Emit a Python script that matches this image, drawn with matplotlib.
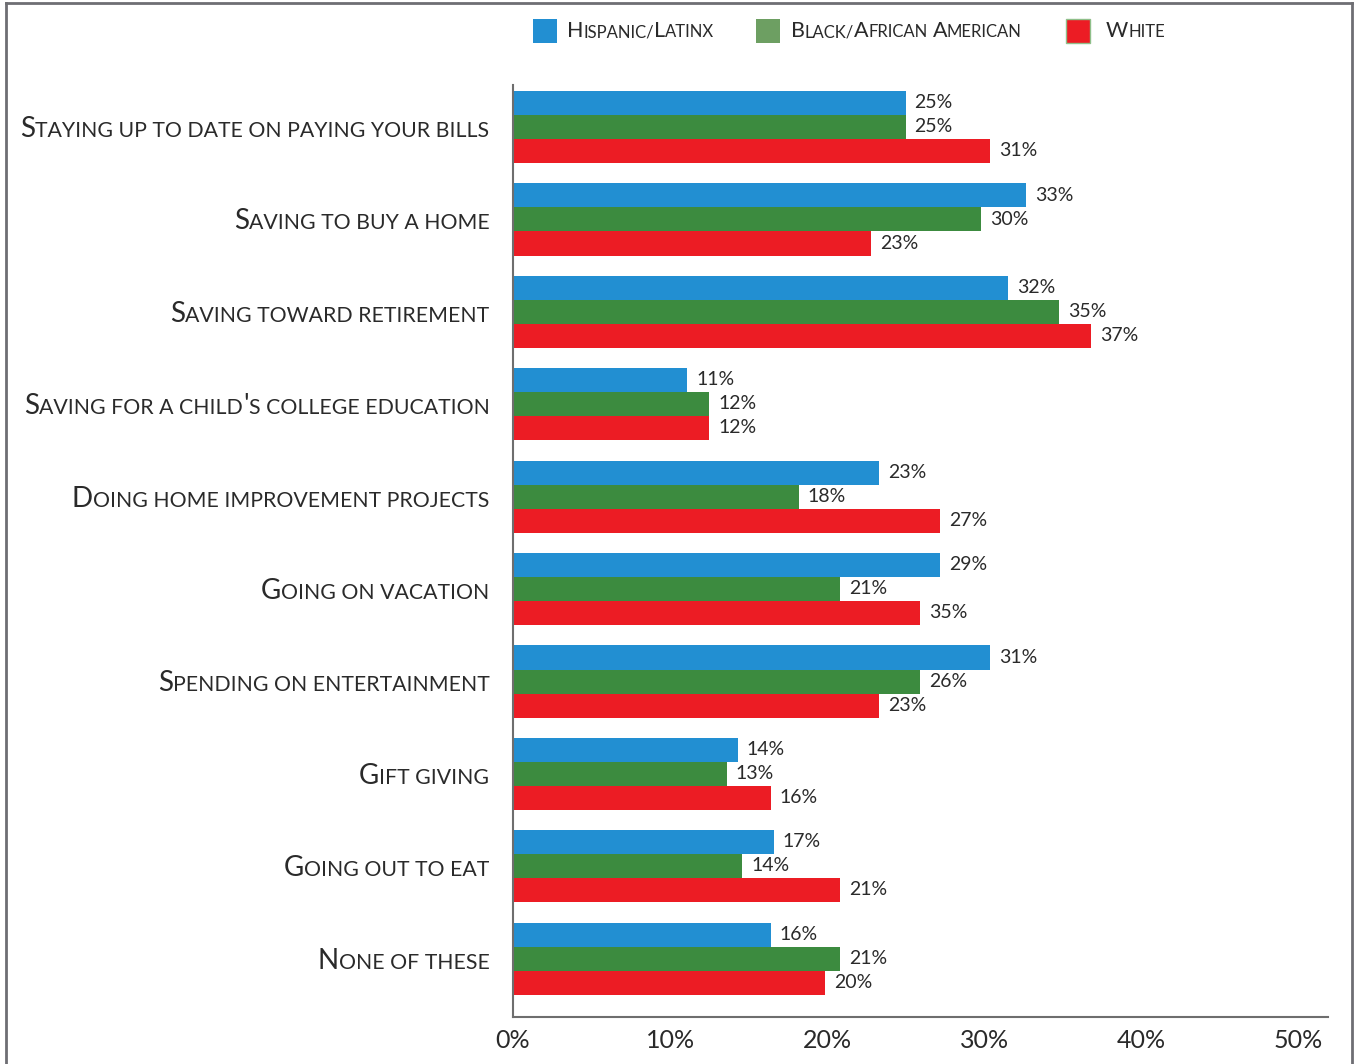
import matplotlib
matplotlib.use("Agg")
import matplotlib.pyplot as plt
from matplotlib.lines import Line2D
from matplotlib.offsetbox import TextArea, HPacker, DrawingArea, AnnotationBbox
import numpy as np

# Datos
categorias = [
    "Staying up to date on paying your bills",
    "Saving to buy a home",
    "Saving toward retirement",
    "Saving for a child's college education",
    "Doing home improvement projects",
    "Going on vacation",
    "Spending on entertainment",
    "Gift giving",
    "Going out to eat",
    "None of these",
]
series = ["Hispanic/Latinx", "Black/African American", "White"]

# largo de las barras
hispanic = [25, 32.7, 31.5, 11.1, 23.3, 27.2, 30.4, 14.3, 16.6, 16.4]
black = [25, 29.8, 34.8, 12.5, 18.2, 20.8, 25.9, 13.6, 14.6, 20.8]
white = [30.4, 22.8, 36.8, 12.5, 27.2, 25.9, 23.3, 16.4, 20.8, 19.9]

# etiquetas impresas
lab_hispanic = ["25%", "33%", "32%", "11%", "23%", "29%", "31%", "14%", "17%", "16%"]
lab_black = ["25%", "30%", "35%", "12%", "18%", "21%", "26%", "13%", "14%", "21%"]
lab_white = ["31%", "23%", "37%", "12%", "27%", "35%", "23%", "16%", "21%", "20%"]

xticks = [0, 10, 20, 30, 40, 50]
xticklabels = ["0%", "10%", "20%", "30%", "40%", "50%"]

colores = ["#228fd2", "#3c8b3f", "#ec1c24"]
colores_leyenda = ["#228fd2", "#6d9f62", "#ec1c24"]
FONT = "Lato"
TXT = "#2a2a2a"

plt.rcParams["font.family"] = [FONT, "DejaVu Sans"]


def versalitas(texto, big, small, color=TXT):
    # texto en versalitas: mayusculas grandes, minusculas como mayusculas chicas
    runs = []
    for ch in texto:
        es_grande = ch.isupper() or ch == "'"
        if runs and runs[-1][0] == es_grande:
            runs[-1][1] += ch
        else:
            runs.append([es_grande, ch])
    hijos = []
    for es_grande, s in runs:
        size = big if es_grande else small
        cola = len(s) - len(s.rstrip(" "))
        s = s.strip(" ") if not es_grande else s
        if s:
            hijos.append(TextArea(s.upper(), textprops=dict(fontsize=size, color=color, family=FONT)))
        if cola:
            hijos.append(DrawingArea(0.27 * size * cola, 1))
    return HPacker(children=hijos, align="baseline", pad=0, sep=0)


fig = plt.figure(figsize=(13.56, 10.64), dpi=100)
ax = fig.add_axes([513 / 1356, 1 - 1017 / 1064, (1328 - 513) / 1356, (1017 - 85) / 1064])

y = np.arange(len(categorias))
h = 0.26
for k, (vals, labs) in enumerate([(hispanic, lab_hispanic), (black, lab_black), (white, lab_white)]):
    pos = y + (k - 1) * h
    ax.barh(pos, vals, height=h, color=colores[k], linewidth=0)
    for p, v, t in zip(pos, vals, labs):
        ax.annotate(t, (v, p), xytext=(6.5, 0.3), textcoords="offset points",
                    va="center", ha="left", fontsize=14, color=TXT)

ax.set_xlim(0, 51.9)
ax.set_ylim(9.63, -0.455)
ax.set_xticks(xticks)
ax.set_xticklabels(xticklabels, fontsize=18, color=TXT)
ax.set_yticks([])
ax.tick_params(axis="x", length=0, pad=9)
for s in ["top", "right"]:
    ax.spines[s].set_visible(False)
for s in ["left", "bottom"]:
    ax.spines[s].set_color("#6e6e6e")
    ax.spines[s].set_linewidth(1.5)

# etiquetas de categorias
for i, c in enumerate(categorias):
    caja = versalitas(c, 20, 15.3)
    ab = AnnotationBbox(caja, (0, i + 0.02), xycoords=("axes fraction", "data"),
                        xybox=(-17, 0), boxcoords="offset points",
                        box_alignment=(1, 0.5), frameon=False, annotation_clip=False)
    ax.add_artist(ab)

# leyenda
ley_x = [533, 756, 1066]
ley_txt = [567, 791, 1106]
for k, nombre in enumerate(series):
    x0 = ley_x[k] / 1356
    fig.patches.append(plt.Rectangle((x0, 1 - 43 / 1064), 24 / 1356, 24 / 1064,
                                     transform=fig.transFigure, facecolor=colores_leyenda[k],
                                     edgecolor="#8fbf8a" if k == 2 else "none", linewidth=1))
    caja = versalitas(nombre, 15.5, 12)
    ab = AnnotationBbox(caja, (ley_txt[k] / 1356, 1 - 31 / 1064), xycoords="figure fraction",
                        box_alignment=(0, 0.5), frameon=False, annotation_clip=False)
    fig.add_artist(ab)

# marco
borde = dict(color="#6e6e73", linewidth=2, transform=fig.transFigure)
fig.add_artist(Line2D([6 / 1356, 6 / 1356], [0, 1 - 3 / 1064], **borde))
fig.add_artist(Line2D([6 / 1356, 1352 / 1356], [1 - 3 / 1064, 1 - 3 / 1064], **borde))
fig.add_artist(Line2D([1352 / 1356, 1352 / 1356], [0, 1 - 3 / 1064], **borde))

fig.savefig("out.png", dpi=100)
